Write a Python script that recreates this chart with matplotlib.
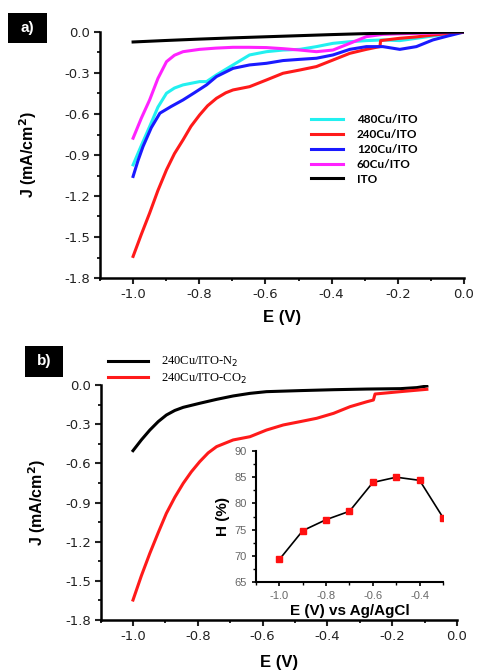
import numpy as np
import matplotlib.pyplot as plt
from matplotlib.patches import Rectangle
from matplotlib.ticker import MultipleLocator

# ---- panel a data: LSV curves, E (V) vs J (mA/cm2)
e_ito = [-1.0, -0.9, -0.8, -0.7, -0.6, -0.5, -0.4, -0.3, -0.2, -0.1, 0.0]
j_ito = [-0.073, -0.062, -0.052, -0.043, -0.035, -0.027, -0.019, -0.012, -0.007, -0.003, 0.0]

e_60 = [-1.0, -0.975, -0.95, -0.925, -0.899, -0.875, -0.849, -0.799, -0.75, -0.698,
        -0.65, -0.597, -0.547, -0.496, -0.446, -0.396, -0.345, -0.295, -0.245, -0.194,
        -0.144, -0.094, -0.05, 0.0]
j_60 = [-0.777, -0.63, -0.497, -0.34, -0.217, -0.17, -0.144, -0.127, -0.118, -0.112,
        -0.112, -0.114, -0.122, -0.132, -0.144, -0.132, -0.083, -0.034, -0.017, -0.013,
        -0.01, -0.008, -0.004, 0.0]

e_480 = [-1.0, -0.975, -0.95, -0.925, -0.899, -0.875, -0.849, -0.799, -0.778, -0.748,
         -0.698, -0.648, -0.597, -0.547, -0.496, -0.446, -0.396, -0.345, -0.295, -0.245,
         -0.194, -0.144, -0.094, -0.05, 0.0]
j_480 = [-0.972, -0.83, -0.692, -0.55, -0.448, -0.41, -0.387, -0.363, -0.363, -0.314,
         -0.241, -0.168, -0.144, -0.132, -0.127, -0.107, -0.083, -0.071, -0.063, -0.058,
         -0.063, -0.046, -0.029, -0.015, 0.0]

e_120 = [-1.0, -0.985, -0.970, -0.945, -0.919, -0.885, -0.849, -0.815, -0.778, -0.748,
         -0.698, -0.648, -0.597, -0.547, -0.496, -0.446, -0.396, -0.345, -0.295, -0.245,
         -0.194, -0.144, -0.094, -0.05, 0.0]
j_120 = [-1.057, -0.94, -0.838, -0.70, -0.594, -0.545, -0.497, -0.445, -0.387, -0.326,
         -0.266, -0.241, -0.229, -0.209, -0.200, -0.192, -0.168, -0.127, -0.107, -0.107,
         -0.127, -0.107, -0.058, -0.03, 0.0]

e_240 = [-1.0, -0.975, -0.950, -0.925, -0.899, -0.875, -0.849, -0.825, -0.799, -0.775,
         -0.748, -0.72, -0.698, -0.648, -0.597, -0.547, -0.496, -0.446, -0.396, -0.345,
         -0.295, -0.265, -0.254, -0.252, -0.194, -0.144, -0.094, -0.05, 0.0]
j_240 = [-1.642, -1.48, -1.325, -1.16, -1.008, -0.89, -0.789, -0.69, -0.607, -0.54,
         -0.485, -0.445, -0.424, -0.40, -0.351, -0.302, -0.278, -0.253, -0.205, -0.156,
         -0.127, -0.112, -0.107, -0.063, -0.046, -0.036, -0.022, -0.012, 0.0]

# ---- panel b data
e_n2 = [-1.0, -0.974, -0.948, -0.922, -0.897, -0.871, -0.845, -0.794, -0.742, -0.691,
        -0.639, -0.588, -0.485, -0.381, -0.278, -0.175, -0.124, -0.093]
j_n2 = [-0.503, -0.42, -0.345, -0.28, -0.230, -0.195, -0.171, -0.140, -0.110, -0.084,
        -0.064, -0.051, -0.043, -0.036, -0.031, -0.028, -0.020, -0.008]

e_co2 = [-1.0, -0.974, -0.948, -0.922, -0.897, -0.871, -0.845, -0.82, -0.794, -0.768,
         -0.742, -0.691, -0.639, -0.588, -0.536, -0.485, -0.433, -0.381, -0.330, -0.278,
         -0.258, -0.253, -0.175, -0.093]
j_co2 = [-1.647, -1.46, -1.289, -1.13, -0.983, -0.86, -0.753, -0.665, -0.587, -0.52,
         -0.472, -0.421, -0.396, -0.345, -0.306, -0.281, -0.255, -0.217, -0.166, -0.128,
         -0.115, -0.069, -0.051, -0.033]

# ---- inset data
e_h = [-1.0, -0.9, -0.8, -0.7, -0.6, -0.5, -0.4, -0.3]
h_pct = [69.3, 74.8, 76.9, 78.5, 84.0, 85.0, 84.4, 77.3]

plt.rcParams['font.family'] = ['Liberation Sans', 'DejaVu Sans']

fig = plt.figure(figsize=(4.79, 6.72), dpi=100)
W, H = 479.0, 672.0


def style_main(ax):
    ax.set_xlim(-1.1, 0.0)
    ax.set_ylim(-1.8, 0.0)
    ax.spines['top'].set_visible(False)
    ax.spines['right'].set_visible(False)
    ax.spines['left'].set_linewidth(1.8)
    ax.spines['bottom'].set_linewidth(1.8)
    ax.xaxis.set_major_locator(MultipleLocator(0.2))
    ax.xaxis.set_minor_locator(MultipleLocator(0.1))
    ax.yaxis.set_major_locator(MultipleLocator(0.3))
    ax.yaxis.set_minor_locator(MultipleLocator(0.15))
    ax.tick_params(which='major', direction='out', length=4, width=1.5,
                   colors='#222222', pad=3)
    ax.tick_params(which='minor', direction='out', length=2.5, width=1.2)
    ax.set_xticks(np.round(np.arange(-1.0, 0.01, 0.2), 1))
    ax.set_xticklabels(['-1.0', '-0.8', '-0.6', '-0.4', '-0.2', '0.0'],
                       family='DejaVu Sans', fontsize=9.5)
    ax.set_yticks(np.round(np.arange(-1.8, 0.01, 0.3), 1))
    ax.set_yticklabels(['-1.8', '-1.5', '-1.2', '-0.9', '-0.6', '-0.3', '0.0'],
                       family='DejaVu Sans', fontsize=9.5)
    ax.set_xlabel('E (V)', fontsize=12, fontweight='bold', labelpad=7)


# ---- panel a
ax1 = fig.add_axes([100 / W, 1 - 278 / H, 364 / W, 246 / H])
style_main(ax1)
ax1.plot(e_480, j_480, color='#22f0f0', lw=2.2, label='480Cu/ITO')
ax1.plot(e_240, j_240, color='#ff1a1a', lw=2.2, label='240Cu/ITO')
ax1.plot(e_120, j_120, color='#1a1aff', lw=2.2, label='120Cu/ITO')
ax1.plot(e_60, j_60, color='#ff22ff', lw=2.2, label='60Cu/ITO')
ax1.plot(e_ito, j_ito, color='black', lw=2.2, label='ITO')
ax1.set_ylabel('J (mA/cm$^\\mathbf{2}$)', fontsize=11.5, fontweight='bold', labelpad=18)
ax1.legend(loc='upper left', bbox_to_anchor=(0.55, 0.71), frameon=False,
           prop={'family': 'Lato', 'weight': 'bold', 'size': 8.5},
           handlelength=2.7, handletextpad=1.2, labelspacing=0.33)

# ---- panel b
ax2 = fig.add_axes([100.6 / W, 1 - 620 / H, 356.4 / W, 235 / H])
style_main(ax2)
ax2.xaxis.labelpad = 9
ax2.plot(e_n2, j_n2, color='black', lw=2.2, label='240Cu/ITO-N$_2$')
ax2.plot(e_co2, j_co2, color='#ff1a1a', lw=2.2, label='240Cu/ITO-CO$_2$')
ax2.set_ylabel('J (mA/cm$^\\mathbf{2}$)', fontsize=11.5, fontweight='bold', labelpad=12)
ax2.legend(loc='upper left', bbox_to_anchor=(-0.01, 1.175), frameon=False,
           prop={'family': 'Liberation Serif', 'size': 9},
           handlelength=3.2, handletextpad=1.0, labelspacing=0.2)

# ---- inset
ax3 = fig.add_axes([256 / W, 1 - 582 / H, 187 / W, 131 / H])
ax3.plot(e_h, h_pct, color='black', lw=1.2, marker='s', markersize=4.5,
         markerfacecolor='#ff1010', markeredgecolor='#ff1010')
ax3.set_xlim(-1.1, -0.3)
ax3.set_ylim(65, 90)
ax3.spines['top'].set_visible(False)
ax3.spines['right'].set_visible(False)
ax3.spines['left'].set_linewidth(1.5)
ax3.spines['bottom'].set_linewidth(1.5)
ax3.set_xticks([-1.0, -0.8, -0.6, -0.4])
ax3.set_xticklabels(['-1.0', '-0.8', '-0.6', '-0.4'])
ax3.xaxis.set_minor_locator(MultipleLocator(0.1))
ax3.yaxis.set_major_locator(MultipleLocator(5))
ax3.yaxis.set_minor_locator(MultipleLocator(2.5))
ax3.tick_params(which='major', direction='out', length=3, width=1.2,
                labelsize=8, labelcolor='#666666')
ax3.tick_params(which='minor', direction='out', length=2, width=1)
ax3.set_xlabel('E (V) vs Ag/AgCl', fontsize=11, fontweight='bold', labelpad=2)
ax3.set_ylabel('H (%)', fontsize=11, fontweight='bold', labelpad=3)

# ---- panel tags
for (x0, y0, w, h, tag) in [(8, 13, 39, 30, 'a)'), (25, 346, 38, 31, 'b)')]:
    fig.patches.append(Rectangle((x0 / W, 1 - (y0 + h) / H), w / W, h / H,
                                 transform=fig.transFigure, facecolor='black',
                                 edgecolor='none'))
    fig.text((x0 + w / 2) / W, 1 - (y0 + h / 2) / H, tag, color='white',
             fontsize=11, fontweight='bold', ha='center', va='center')

fig.savefig('out.png', dpi=100)
